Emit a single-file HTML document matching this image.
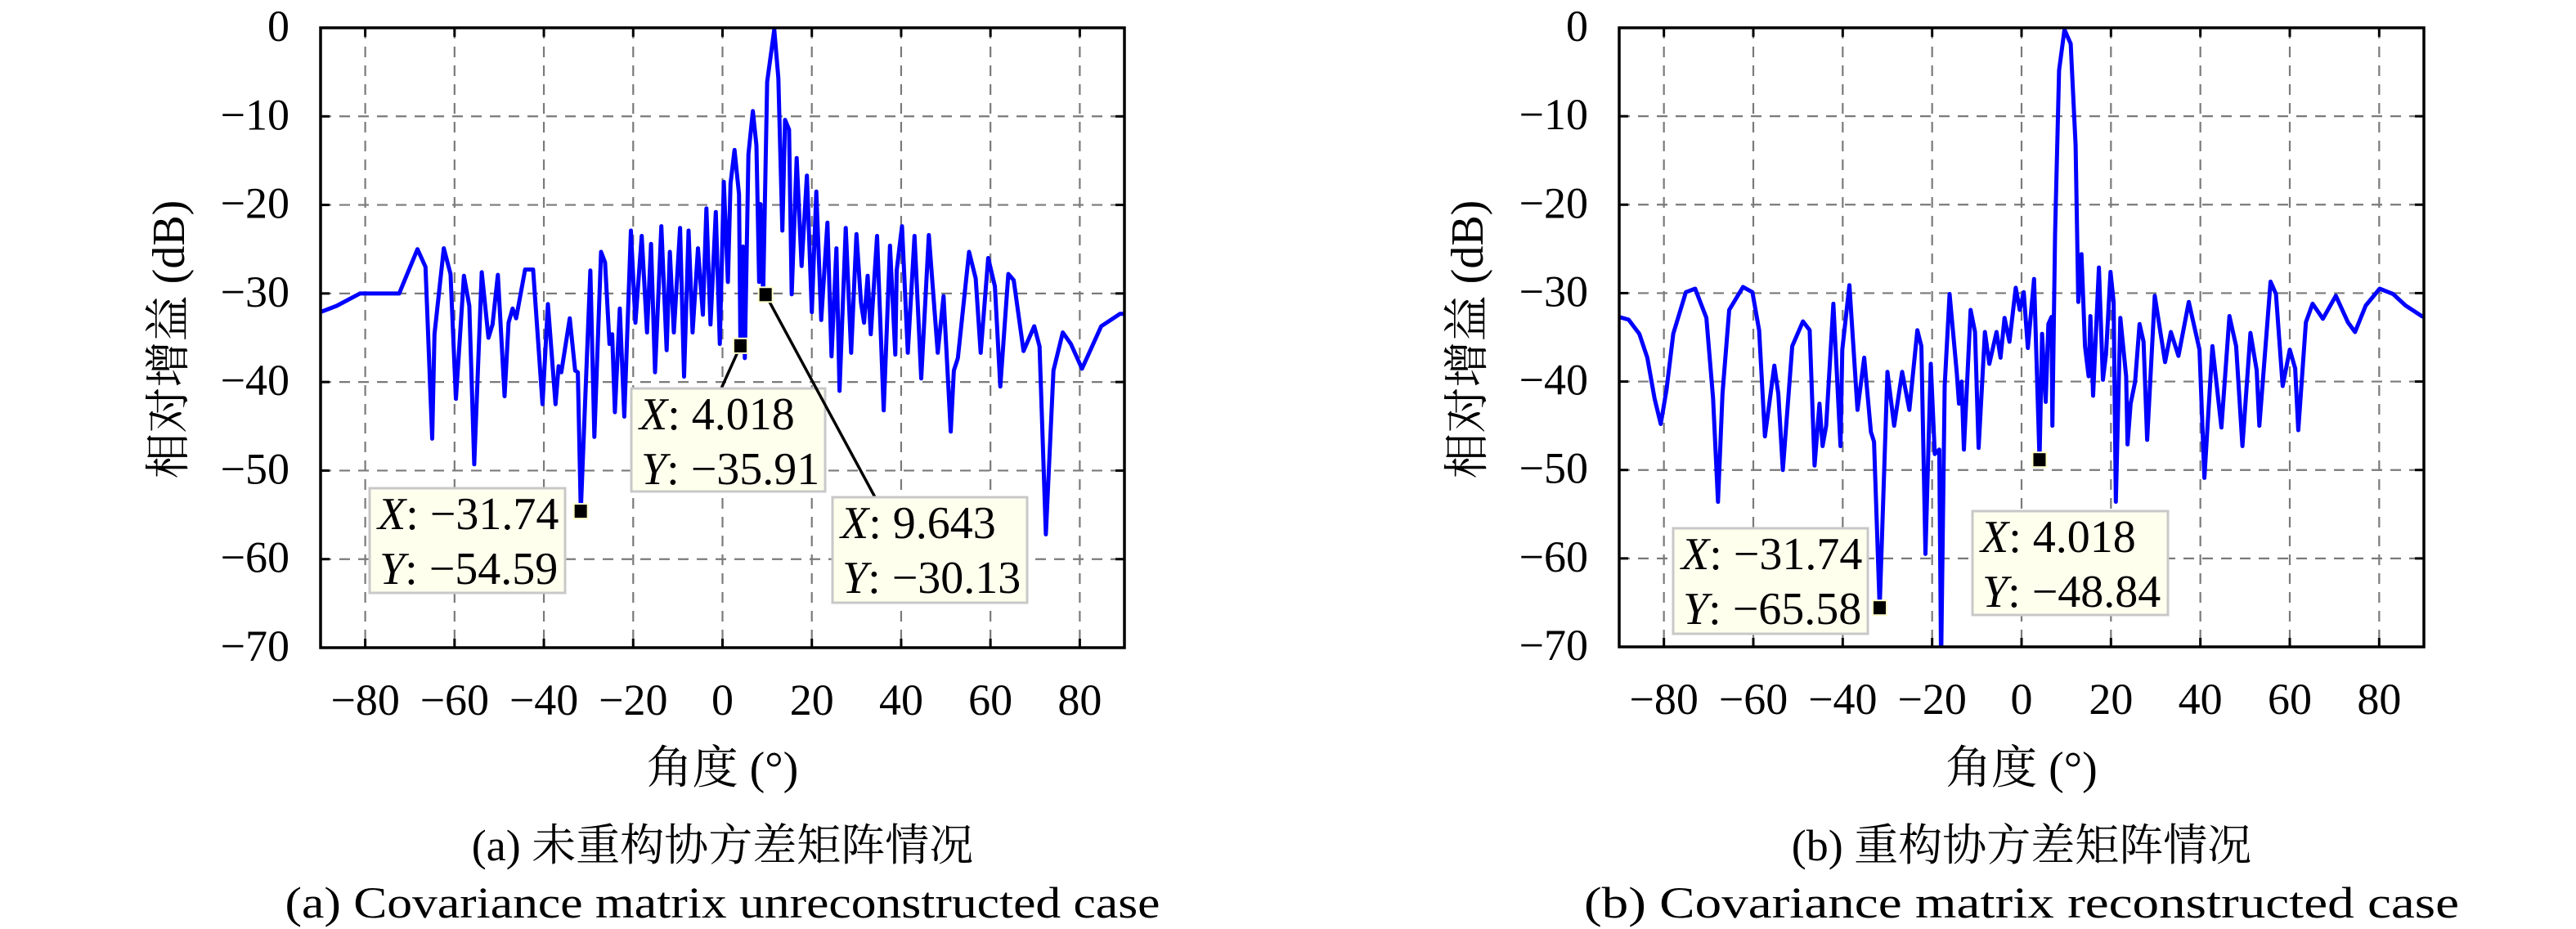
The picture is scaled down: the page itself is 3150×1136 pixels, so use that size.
<!DOCTYPE html>
<html><head><meta charset="utf-8">
<style>
html,body{margin:0;padding:0;background:#fff;}
svg{display:block;}
text{font-family:"Liberation Serif","Noto Serif CJK SC","Noto Sans CJK SC",serif;fill:#000;}
</style></head>
<body>
<svg id="fig" width="3150" height="1136" viewBox="0 0 3150 1136" xmlns="http://www.w3.org/2000/svg">
<defs>
<clipPath id="clipA"><rect x="392" y="34" width="983" height="758"/></clipPath>
<clipPath id="clipB"><rect x="1980" y="34" width="984" height="757"/></clipPath>
</defs>
<g id="panelA"></g>
<g id="panelB"></g>
</svg>
<script>
const xTicks = [-80,-60,-40,-20,0,20,40,60,80];
const yTicks = [0,-10,-20,-30,-40,-50,-60,-70];
const xTickLabels = ["\u221280","\u221260","\u221240","\u221220","0","20","40","60","80"];
const yTickLabels = ["0","\u221210","\u221220","\u221230","\u221240","\u221250","\u221260","\u221270"];

const anglesA = [-90,-86.4,-81.2,-72.4,-68.3,-66.5,-65,-64.5,-62.4,-60.9,-59.7,-57.9,-56.7,-55.6,-53.9,-52.4,-51.5,-50.3,-48.8,-47.9,-47,-46.2,-44.2,-42.4,-40.3,-39.1,-37.4,-36.7,-36.1,-34.2,-33,-32.4,-31.74,-29.6,-28.7,-27.2,-26.3,-25.3,-24.7,-24.1,-23,-22,-20.5,-19.5,-18.1,-16.9,-16,-15.1,-13.7,-12.5,-11.8,-10.9,-9.5,-8.6,-7.6,-6.7,-5.5,-4.4,-3.6,-2.7,-1.5,-0.6,0.3,1.2,1.8,2.7,3.7,4.018,4.6,5,5.8,6.8,7.6,8.2,8.5,9.1,10,11.6,12.5,13.4,14,14.9,15.5,16.6,17.7,18.9,20,21,22.1,23.5,24.4,25.5,26.2,27.6,28.8,30,31,31.7,32.5,33.2,34.6,36.1,37.5,38.7,39,40.2,41.5,43,44.5,46.2,48.2,49.5,51.1,51.8,52.7,55.2,56.7,57.8,59.5,61,62.2,64,65.2,67.4,69.8,71,72.4,74.1,76.2,78,80.5,84.8,89,90];
const gainA = [-32.1,-31.4,-30,-30,-25,-27,-46.4,-34.6,-24.9,-27.8,-41.9,-28,-31.4,-49.3,-27.6,-35,-33.5,-27.9,-41.6,-33.3,-31.7,-32.8,-27.3,-27.3,-42.5,-31.2,-42.5,-38.2,-38.9,-32.8,-38.7,-38.9,-54.59,-27.4,-46.2,-25.3,-26.5,-35.7,-34.6,-43.4,-31.7,-43.9,-22.9,-33.3,-23.5,-34.4,-24.4,-38.9,-22.4,-36.4,-25.3,-34.4,-22.6,-39.4,-22.9,-34.4,-24.9,-32.4,-20.4,-33.5,-20.8,-35.7,-17.4,-28.7,-17.6,-13.8,-18.8,-35.91,-24.7,-37.3,-14.3,-9.4,-13.3,-28.7,-19.9,-30.13,-6.1,-0.2,-5.7,-22.9,-10.4,-11.5,-30.1,-14.7,-26.9,-16.7,-32.1,-18.5,-33,-22,-37.1,-24.9,-41,-22.6,-36.7,-23.3,-31,-33.3,-28,-34.6,-23.5,-43.2,-24.6,-36.9,-27.4,-22.4,-36.7,-23.5,-39.6,-23.4,-36.7,-30.3,-45.6,-38.7,-37.3,-25.3,-28.3,-36.7,-26,-29.2,-40.5,-27.8,-28.5,-36.5,-33.7,-36,-57.2,-38.7,-34.4,-35.7,-38.5,-33.7,-32.3,-32.3];

const anglesB = [-90,-87.9,-85.5,-83.7,-82.1,-80.7,-79.4,-77.9,-75.1,-73,-70.5,-69,-67.9,-66.9,-65.4,-62.3,-60.2,-58.7,-57.4,-55.3,-54.4,-53.4,-51.3,-48.9,-47.4,-46.3,-45.2,-44.5,-43.7,-42.1,-40.5,-40.1,-38.5,-36.7,-35.2,-33.7,-33,-31.74,-30,-28.5,-26.7,-25.1,-23.3,-22.4,-21.5,-20.3,-19.4,-18.4,-18,-17.2,-16.1,-14.5,-14,-13.4,-12.9,-11.4,-10.4,-9.6,-8.2,-7.2,-5.6,-4.7,-3.8,-2.7,-1.3,-0.4,0.5,1.4,2.8,4.018,4.6,5.4,6,6.7,6.9,7.5,8.4,9.6,11,12.1,12.7,13.4,14.2,15,15.4,16,17.3,18.2,18.9,19.9,20.6,21.1,22.1,23.4,23.7,24.4,25.4,26.4,27.3,28.1,29.8,32.1,33.4,35.1,37.4,39.8,40.9,42.7,44.7,46.5,48,49.4,51.2,52.6,53.2,55.7,56.9,58.4,60,61.2,61.9,63.6,65.1,67.4,70.3,73,74.6,77,80.1,83.1,85.9,89.5,90];
const gainB = [-32.7,-33,-34.6,-37.3,-41.9,-44.8,-40.9,-34.6,-29.9,-29.5,-32.8,-41.9,-53.6,-41.4,-31.9,-29.3,-29.9,-34.2,-46.2,-38.2,-41.4,-50,-36,-33.2,-34.2,-49.5,-42.5,-47.3,-45,-31.2,-47.3,-36.4,-29.1,-43.2,-37.3,-45.7,-46.8,-65.58,-38.9,-45,-38.9,-43.2,-34.2,-36,-59.5,-38,-48.2,-47.7,-72,-40.5,-30.1,-38.9,-42.5,-40,-47.7,-31.9,-34.4,-47.5,-34.4,-38,-34.4,-37.3,-32.8,-35.5,-29.4,-31.9,-29.9,-36.2,-28.4,-48.84,-34.6,-42.3,-33.5,-32.7,-45,-23.3,-4.8,-0.2,-1.8,-13.3,-31,-25.6,-36,-39.4,-32.6,-41.6,-27.1,-39.8,-36.9,-27.6,-31,-53.6,-32.8,-39.4,-47.1,-42.5,-40,-33.5,-35.5,-46.6,-30.3,-37.8,-34.4,-37.1,-31,-36.4,-50.9,-36,-45.2,-32.6,-36,-47.3,-34.5,-38.7,-45,-28.7,-30.1,-40.5,-36.4,-38.5,-45.5,-33.3,-31.2,-32.9,-30.3,-33.3,-34.4,-31.4,-29.5,-30.1,-31.4,-32.6,-32.7];

const tipsA = [
  {x:-31.74, y:-54.59, lx:"\u221231.74", ly:"\u221254.59", bx:452, by:597, bw:239, bh:128, leader:false},
  {x:4.018, y:-35.91, lx:"4.018", ly:"\u221235.91", bx:772, by:475, bw:237, bh:126, leader:true, ax:882, ay:475},
  {x:9.643, y:-30.13, lx:"9.643", ly:"\u221230.13", bx:1018, by:608, bw:238, bh:129, leader:true, ax:1070, ay:608}
];
const tipsB = [
  {x:-31.74, y:-65.58, lx:"\u221231.74", ly:"\u221265.58", bx:2046, by:646, bw:238, bh:129, leader:false},
  {x:4.018, y:-48.84, lx:"4.018", ly:"\u221248.84", bx:2412, by:625, bw:239, bh:127, leader:false}
];

const NS = "http://www.w3.org/2000/svg";
function mk(tag, attrs, parent){
  const e = document.createElementNS(NS, tag);
  for (const k in attrs) e.setAttribute(k, attrs[k]);
  parent.appendChild(e);
  return e;
}

function drawPanel(g, L, R, T, B, xs, ys, tips, clipId, cap1, cap2, tag){
  const sx = v => L + (v + 90) / 180 * (R - L);
  const sy = v => T + (-v) / 70 * (B - T);
  const grid = mk('g', {}, g);
  
  
  xTicks.forEach(t => {
    mk('line', {x1:sx(t), x2:sx(t), y1:T, y2:B, stroke:'#7a7a7a', 'stroke-width':2.2, 'stroke-dasharray':'13,10'}, grid);
  });
  yTicks.forEach(t => {
    if (t === 0 || t === -70) return;
    mk('line', {x1:L, x2:R, y1:sy(t), y2:sy(t), stroke:'#7a7a7a', 'stroke-width':2.2, 'stroke-dasharray':'13,10'}, grid);
  });
  const tk = mk('g', {stroke:'#000','stroke-width':3}, g);
  xTicks.forEach(t => {
    mk('line', {x1:sx(t), x2:sx(t), y1:B, y2:B-11}, tk);
    mk('line', {x1:sx(t), x2:sx(t), y1:T, y2:T+11}, tk);
  });
  yTicks.forEach(t => {
    mk('line', {x1:L, x2:L+11, y1:sy(t), y2:sy(t)}, tk);
    mk('line', {x1:R, x2:R-11, y1:sy(t), y2:sy(t)}, tk);
  });
  let d = '';
  xs.forEach((a, i) => { d += (i ? 'L' : 'M') + sx(a).toFixed(1) + ',' + sy(ys[i]).toFixed(1); });
  const line = mk('path', {d:d, fill:'none', stroke:'#0000ff', 'stroke-width':5, 'stroke-linejoin':'round', 'clip-path':'url(#' + clipId + ')'}, g);
  
  
  const frame = mk('rect', {x:L, y:T, width:R-L, height:B-T, fill:'none', stroke:'#000', 'stroke-width':3.5}, g);
  
  
  xTicks.forEach((t, i) => {
    const tx = mk('text', {x:sx(t), y:B+82, 'font-size':54, 'text-anchor':'middle'}, g);
    tx.textContent = xTickLabels[i];
    
    
  });
  yTicks.forEach((t, i) => {
    const tx = mk('text', {x:L-38, y:sy(t)+16, 'font-size':54, 'text-anchor':'end'}, g);
    tx.textContent = yTickLabels[i];
    
    
  });
  const cx = (L + R) / 2;
  const xt = mk('text', {x:cx, y:958, 'font-size':56, 'text-anchor':'middle'}, g);
  xt.textContent = '角度 (°)';
  
  
  const ylx = L - 187;
  const yt = mk('text', {x:0, y:0, 'font-size':56, 'text-anchor':'middle', transform:'translate(' + (ylx+20) + ',415) rotate(-90)'}, g);
  yt.textContent = '相对增益 (dB)';
  
  
  const c1 = mk('text', {x:cx, y:1052, 'font-size':54, 'text-anchor':'middle'}, g);
  c1.textContent = cap1;
  
  
  const c2 = mk('text', {x:cx, y:1122, 'font-size':54, 'text-anchor':'middle', textLength:1070, lengthAdjust:'spacingAndGlyphs'}, g);
  c2.textContent = cap2;
  
  
  tips.forEach(tp => {
    const tg = mk('g', {}, g);
    
    
    const mx = sx(tp.x), my = sy(tp.y);
    if (tp.leader) mk('line', {x1:mx, y1:my, x2:tp.ax, y2:tp.ay, stroke:'#000', 'stroke-width':3.5}, tg);
    mk('rect', {x:tp.bx, y:tp.by, width:tp.bw, height:tp.bh, fill:'#ffffee', stroke:'#c8c8c8', 'stroke-width':3}, tg);
    const m = mk('rect', {x:mx-8.5, y:my-9, width:17, height:18, fill:'#000', stroke:'#ffffcc', 'stroke-width':2}, tg);
    
    
    const t1 = mk('text', {x:tp.bx+10, y:tp.by+50, 'font-size':56}, tg);
    t1.innerHTML = '<tspan font-style="italic">X</tspan>: ' + tp.lx;
    const t2 = mk('text', {x:tp.bx+12, y:tp.by+117, 'font-size':56}, tg);
    t2.innerHTML = '<tspan font-style="italic">Y</tspan>: ' + tp.ly;
  });
}

drawPanel(document.getElementById('panelA'), 392, 1375, 34, 792, anglesA, gainA, tipsA, 'clipA',
  '(a) 未重构协方差矩阵情况', '(a) Covariance matrix unreconstructed case', 'a');
drawPanel(document.getElementById('panelB'), 1980, 2964, 34, 791, anglesB, gainB, tipsB, 'clipB',
  '(b) 重构协方差矩阵情况', '(b) Covariance matrix reconstructed case', 'b');
</script>
</body></html>
